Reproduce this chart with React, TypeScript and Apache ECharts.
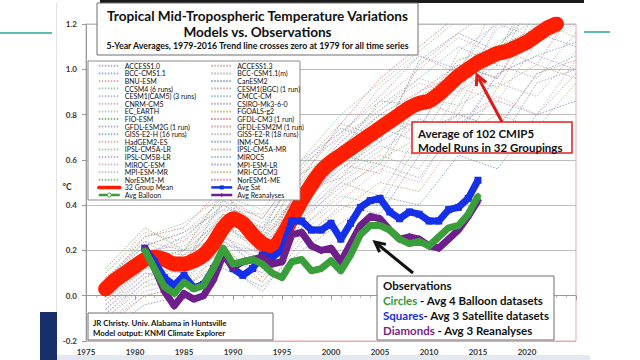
import React, { useEffect, useRef } from "react";
import * as echarts from "echarts";

const FONT = 'Lato, "Open Sans", "DejaVu Sans", sans-serif';

// ---- Model spaghetti (32 groupings), sampled every 4 years ----
const modelYears = [1977, 1981, 1985, 1989, 1993, 1997, 2001, 2005, 2009, 2013, 2017, 2021, 2025];

const modelNames = [
  "ACCESS1.0", "ACCESS1.3",
  "BCC-CMS1.1", "BCC-CSM1.1(m)",
  "BNU-ESM", "CanESM2",
  "CCSM4 (6 runs)", "CESM1(BGC) (1 run)",
  "CESM1(CAM5) (3 runs)", "CMCC-CM",
  "CNRM-CM5", "CSIRO-Mk3-6-0",
  "EC_EARTH", "FGOALS-g2",
  "FIO-ESM", "GFDL-CM3 (1 run)",
  "GFDL-ESM2G (1 run)", "GFDL-ESM2M (1 run)",
  "GISS-E2-H (16 runs)", "GISS-E2-R (18 runs)",
  "HadGEM2-ES", "INM-CM4",
  "IPSL-CM5A-LR", "IPSL-CM5A-MR",
  "IPSL-CM5B-LR", "MIROC5",
  "MIROC-ESM", "MPI-ESM-LR",
  "MPI-ESM-MR", "MRI-CGCM3",
  "NorESM1-M", "NorESM1-ME",
];

const m01 = [0.02, 0.20, 0.18, 0.36, 0.22, 0.48, 0.66, 0.80, 0.74, 1.02, 0.96, 1.26, 1.34];
const m02 = [-0.04, 0.12, 0.10, 0.30, 0.26, 0.40, 0.58, 0.54, 0.86, 0.80, 1.10, 1.02, 1.28];
const m03 = [0.06, 0.24, 0.14, 0.42, 0.28, 0.60, 0.72, 0.88, 1.06, 1.00, 1.22, 1.32, 1.40];
const m04 = [-0.08, 0.08, 0.20, 0.26, 0.18, 0.36, 0.54, 0.66, 0.62, 0.90, 1.02, 0.96, 1.16];
const m05 = [0.10, 0.28, 0.24, 0.44, 0.34, 0.58, 0.70, 0.92, 1.06, 0.98, 1.30, 1.40, 1.50];
const m06 = [0.04, 0.18, 0.26, 0.40, 0.30, 0.56, 0.74, 0.68, 1.04, 1.16, 1.08, 1.38, 1.46];
const m07 = [-0.02, 0.16, 0.12, 0.32, 0.20, 0.44, 0.62, 0.76, 0.88, 0.84, 1.12, 1.22, 1.14];
const m08 = [0.00, 0.14, 0.16, 0.34, 0.24, 0.46, 0.52, 0.72, 0.90, 0.98, 0.92, 1.20, 1.26];
const m09 = [-0.06, 0.10, 0.08, 0.26, 0.14, 0.38, 0.60, 0.78, 0.72, 1.08, 1.20, 1.14, 1.38];
const m10 = [0.08, 0.22, 0.28, 0.38, 0.36, 0.50, 0.68, 0.84, 0.96, 1.10, 1.02, 1.34, 1.42];
const m11 = [-0.12, 0.02, 0.06, 0.18, 0.10, 0.28, 0.42, 0.56, 0.50, 0.78, 0.88, 0.80, 1.04];
const m12 = [-0.14, 0.00, 0.04, 0.14, 0.02, 0.24, 0.40, 0.36, 0.62, 0.74, 0.66, 0.94, 1.00];
const m13 = [0.04, 0.20, 0.22, 0.36, 0.28, 0.50, 0.70, 0.82, 0.96, 0.90, 1.18, 1.24, 1.32];
const m14 = [-0.10, 0.06, 0.02, 0.22, 0.06, 0.30, 0.46, 0.60, 0.70, 0.64, 0.92, 1.02, 0.96];
const m15 = [0.12, 0.30, 0.20, 0.46, 0.26, 0.54, 0.64, 0.86, 0.84, 1.04, 1.10, 1.28, 1.36];
const m16 = [0.06, 0.26, 0.30, 0.48, 0.16, 0.52, 0.76, 0.96, 1.10, 1.24, 1.36, 1.48, 1.56];
const m17 = [-0.06, 0.08, 0.14, 0.24, 0.12, 0.34, 0.48, 0.58, 0.52, 0.76, 0.86, 0.80, 0.98];
const m18 = [-0.02, 0.12, 0.18, 0.28, 0.08, 0.32, 0.50, 0.44, 0.72, 0.80, 0.74, 0.98, 1.04];
const m19 = [0.02, 0.16, 0.10, 0.30, 0.22, 0.42, 0.56, 0.68, 0.78, 0.72, 0.98, 1.06, 1.12];
const m20 = [-0.04, 0.10, 0.06, 0.24, 0.16, 0.36, 0.50, 0.62, 0.56, 0.84, 0.94, 0.88, 1.08];
const m21 = [0.08, 0.24, 0.20, 0.40, 0.32, 0.54, 0.72, 0.86, 1.00, 1.14, 1.06, 1.36, 1.44];
const m22 = [-0.16, -0.04, 0.00, 0.12, 0.04, 0.20, 0.32, 0.44, 0.40, 0.62, 0.56, 0.80, 0.86];
const m23 = [0.10, 0.26, 0.32, 0.44, 0.38, 0.60, 0.80, 0.94, 1.08, 1.22, 1.34, 1.44, 1.52];
const m24 = [0.06, 0.22, 0.28, 0.42, 0.34, 0.58, 0.76, 0.70, 1.02, 1.16, 1.28, 1.22, 1.48];
const m25 = [-0.08, 0.06, 0.12, 0.22, 0.20, 0.34, 0.52, 0.64, 0.76, 0.70, 0.98, 1.06, 1.00];
const m26 = [-0.10, 0.04, 0.08, 0.20, 0.10, 0.30, 0.44, 0.40, 0.68, 0.80, 0.74, 0.98, 1.06];
const m27 = [0.04, 0.18, 0.24, 0.38, 0.24, 0.48, 0.68, 0.82, 0.94, 0.88, 1.20, 1.30, 1.40];
const m28 = [0.00, 0.14, 0.12, 0.32, 0.18, 0.44, 0.60, 0.74, 0.68, 0.96, 1.06, 1.16, 1.10];
const m29 = [-0.02, 0.12, 0.16, 0.28, 0.22, 0.40, 0.56, 0.70, 0.82, 0.92, 0.86, 1.12, 1.20];
const m30 = [-0.12, 0.00, 0.04, 0.16, 0.06, 0.26, 0.38, 0.50, 0.46, 0.70, 0.80, 0.74, 0.94];
const m31 = [0.02, 0.16, 0.20, 0.34, 0.26, 0.46, 0.62, 0.58, 0.88, 0.98, 1.10, 1.18, 1.26];
const m32 = [0.00, 0.18, 0.14, 0.36, 0.30, 0.44, 0.64, 0.80, 0.90, 1.02, 0.96, 1.22, 1.30];

const modelValues = [
  m01, m02, m03, m04, m05, m06, m07, m08, m09, m10, m11, m12, m13, m14, m15, m16,
  m17, m18, m19, m20, m21, m22, m23, m24, m25, m26, m27, m28, m29, m30, m31, m32,
];

// ---- 32 group mean ----
const meanYears = [
  1977, 1978, 1979, 1980, 1981, 1982, 1983, 1984, 1985, 1986, 1987, 1988, 1989, 1990, 1991, 1992,
  1993, 1994, 1995, 1996, 1997, 1998, 1999, 2000, 2001, 2002, 2003, 2004, 2005, 2006, 2007, 2008,
  2009, 2010, 2011, 2012, 2013, 2014, 2015, 2016, 2017, 2018, 2019, 2020, 2021, 2022, 2023,
];
const meanValues = [
  0.03, 0.07, 0.10, 0.13, 0.16, 0.17, 0.16, 0.14, 0.14, 0.155, 0.18, 0.23, 0.30, 0.34, 0.32, 0.27,
  0.23, 0.21, 0.26, 0.34, 0.42, 0.49, 0.55, 0.59, 0.62, 0.65, 0.68, 0.71, 0.74, 0.77, 0.80, 0.83,
  0.85, 0.86, 0.89, 0.93, 0.97, 1.00, 1.03, 1.05, 1.07, 1.08, 1.10, 1.12, 1.15, 1.18, 1.20,
];

// ---- Observations ----
const obsYears = [
  1981, 1982, 1983, 1984, 1985, 1986, 1987, 1988, 1989, 1990, 1991, 1992, 1993, 1994, 1995, 1996,
  1997, 1998, 1999, 2000, 2001, 2002, 2003, 2004, 2005, 2006, 2007, 2008, 2009, 2010, 2011, 2012,
  2013, 2014, 2015,
];
const balloon = [
  0.20, 0.12, 0.04, 0.01, 0.06, 0.03, 0.045, 0.12, 0.21, 0.14, 0.15, 0.16, 0.14, 0.10, 0.08, 0.15,
  0.16, 0.11, 0.12, 0.155, 0.11, 0.18, 0.27, 0.31, 0.31, 0.29, 0.25, 0.23, 0.24, 0.22, 0.26, 0.30,
  0.31, 0.36, 0.44,
];
const satellite = [
  0.21, 0.15, 0.08, 0.045, 0.09, 0.035, 0.05, 0.12, 0.20, 0.12, 0.09, 0.12, 0.18, 0.17, 0.20, 0.33,
  0.33, 0.29, 0.29, 0.32, 0.25, 0.32, 0.39, 0.42, 0.43, 0.37, 0.34, 0.37, 0.36, 0.33, 0.33, 0.38,
  0.39, 0.43, 0.51,
];
const reanalyses = [
  0.21, 0.12, 0.02, -0.045, 0.01, -0.015, 0.0, 0.07, 0.18, 0.125, 0.15, 0.16, 0.17, 0.14, 0.15, 0.27,
  0.28, 0.22, 0.20, 0.21, 0.15, 0.23, 0.31, 0.35, 0.34, 0.29, 0.25, 0.26, 0.25, 0.22, 0.21, 0.25,
  0.29, 0.35, 0.42,
];

const xTicks = [1975, 1980, 1985, 1990, 1995, 2000, 2005, 2010, 2015, 2020];

const modelColors = [
  "#9a9ab4", "#c98a8a", "#7d9bc9", "#a6a6a6", "#d69a9a", "#6f8cc0", "#8fbf8f", "#b8997a",
  "#a9a2cc", "#7fb0b0", "#cfa0b4", "#8e8eb0", "#b4b4b4", "#c7a36c", "#67a867", "#c07070",
];

const BLUE = "#1430e8";
const GREEN = "#3a9e3a";
const PURPLE = "#6e1f8c";
const RED = "#ff1e00";

export default function App() {
  const ref = useRef<HTMLDivElement>(null);

  useEffect(() => {
    if (!ref.current) return;
    const chart = echarts.init(ref.current, undefined, { renderer: "svg" });

    const modelSeries = modelNames.map((name, i) => ({
      name,
      type: "line",
      data: modelYears.map((y, j) => [y, modelValues[i][j]]),
      symbol: "none",
      silent: true,
      z: 2,
      lineStyle: { width: 1, type: [1.5, 1.5], color: modelColors[i % modelColors.length], opacity: 0.8 },
      itemStyle: { color: modelColors[i % modelColors.length] },
    }));

    const leftNames = modelNames.filter((_, i) => i % 2 === 0);
    const rightNames = modelNames.filter((_, i) => i % 2 === 1);

    const legendCommon = {
      orient: "vertical",
      top: 62,
      padding: 0,
      itemGap: 0,
      itemWidth: 21,
      itemHeight: 5,
      selectedMode: false,
      z: 20,
      itemStyle: { opacity: 0 },
      textStyle: { fontSize: 7, lineHeight: 7.6, color: "#111", fontFamily: FONT },
    };

    const txt = (x: number, y: number, text: string, size: number, extra: any = {}) => ({
      type: "text",
      x,
      y,
      z: 16,
      style: {
        text,
        fontSize: size,
        fontFamily: FONT,
        fontWeight: "bold",
        fill: "#111",
        textAlign: "left",
        align: "left",
        textVerticalAlign: "middle",
        verticalAlign: "middle",
        ...extra,
      },
    });

    const box = (x: number, y: number, w: number, h: number, stroke: string, lw = 1) => ({
      type: "rect",
      z: 15,
      shape: { x, y, width: w, height: h },
      style: { fill: "#fff", stroke, lineWidth: lw },
    });

    const OBS_SIZE = 11.5;
    const obsRich = {
      g: { fill: "#2f9a3a", fontSize: OBS_SIZE, fontWeight: "bold", fontFamily: FONT },
      b: { fill: "#1a2ee0", fontSize: OBS_SIZE, fontWeight: "bold", fontFamily: FONT },
      p: { fill: "#7a1f86", fontSize: OBS_SIZE, fontWeight: "bold", fontFamily: FONT },
    };

    chart.setOption({
      animation: false,
      backgroundColor: "#ffffff",
      grid: {
        left: 86,
        right: 64,
        top: 24,
        bottom: 19,
        show: true,
        borderColor: "#eaa4ac",
        borderWidth: 1,
        backgroundColor: "transparent",
      },
      xAxis: {
        type: "value",
        min: 1975,
        max: 2025,
        interval: 5,
        axisLine: { show: true, lineStyle: { color: "#9a9a9a" } },
        axisTick: { show: true, length: 4, lineStyle: { color: "#9a9a9a" } },
        minorTick: { show: true, splitNumber: 5, length: 2, lineStyle: { color: "#b0b0b0" } },
        splitLine: { show: false },
        axisLabel: {
          margin: 7,
          fontSize: 8,
          fontWeight: "bold",
          color: "#333",
          fontFamily: FONT,
          formatter: (v: number) => (xTicks.indexOf(v) >= 0 ? String(v) : ""),
        },
      },
      yAxis: {
        type: "value",
        min: -0.2,
        max: 1.2,
        interval: 0.2,
        axisLine: { show: true, lineStyle: { color: "#9a9a9a" } },
        axisTick: { show: true, length: 4, lineStyle: { color: "#9a9a9a" } },
        splitLine: { show: true, lineStyle: { color: "#bdbdbd", width: 1 } },
        axisLabel: {
          margin: 9,
          fontSize: 8,
          fontWeight: "bold",
          color: "#333",
          fontFamily: FONT,
          formatter: (v: number) => v.toFixed(1),
        },
      },
      legend: [
        {
          ...legendCommon,
          left: 97,
          data: [
            ...leftNames,
            { name: "32 Group Mean", lineStyle: { width: 3.5 } },
            { name: "Avg Balloon", lineStyle: { width: 2.5 }, itemStyle: { opacity: 1, color: "#fff", borderColor: GREEN, borderWidth: 1 } },
          ],
        },
        {
          ...legendCommon,
          left: 210,
          data: [
            ...rightNames,
            { name: "Avg Sat", lineStyle: { width: 2.5 }, itemStyle: { opacity: 1 } },
            { name: "Avg Reanalyses", lineStyle: { width: 2.5 }, itemStyle: { opacity: 1 } },
          ],
        },
      ],
      series: [
        ...modelSeries,
        {
          name: "32 Group Mean",
          type: "line",
          data: meanYears.map((y, i) => [y, meanValues[i]]),
          symbol: "none",
          smooth: 0.2,
          silent: true,
          z: 3,
          lineStyle: { width: 15, color: RED, cap: "round", join: "round" },
          itemStyle: { color: RED },
        },
        {
          name: "Avg Sat",
          type: "line",
          data: obsYears.map((y, i) => [y, satellite[i]]),
          symbol: "rect",
          symbolSize: 7,
          silent: true,
          z: 4,
          lineStyle: { width: 7, color: BLUE, join: "round" },
          itemStyle: { color: BLUE },
        },
        {
          name: "Avg Reanalyses",
          type: "line",
          data: obsYears.map((y, i) => [y, reanalyses[i]]),
          symbol: "diamond",
          symbolSize: 8,
          silent: true,
          z: 5,
          lineStyle: { width: 7, color: PURPLE, join: "round" },
          itemStyle: { color: PURPLE },
        },
        {
          name: "Avg Balloon",
          type: "line",
          data: obsYears.map((y, i) => [y, balloon[i]]),
          symbol: "circle",
          symbolSize: 6,
          silent: true,
          z: 6,
          lineStyle: { width: 7, color: GREEN, join: "round" },
          itemStyle: { color: GREEN },
        },
      ],
      graphic: [
        // slide decorations
        { type: "rect", z: 1, shape: { x: 100, y: 0, width: 484, height: 3 }, style: { fill: "#1b1b1b" } },
        { type: "line", z: 1, shape: { x1: 0, y1: 33, x2: 52, y2: 33 }, style: { stroke: "#2aa395", lineWidth: 1.5 } },
        { type: "line", z: 1, shape: { x1: 584, y1: 32, x2: 610, y2: 32 }, style: { stroke: "#2aa395", lineWidth: 1.5 } },
        { type: "line", z: 1, shape: { x1: 56.5, y1: 3, x2: 56.5, y2: 355 }, style: { stroke: "#e2e2e2", lineWidth: 1 } },
        { type: "rect", z: 1, shape: { x: 40, y: 312, width: 17, height: 48 }, style: { fill: "#17306a" } },
        { type: "rect", z: 1, shape: { x: 57, y: 355, width: 533, height: 5 }, style: { fill: "#e3e9f1" } },

        // title box
        box(97, 3, 321, 52, "#6e6e6e"),
        txt(257.5, 16, "Tropical Mid-Tropospheric Temperature Variations", 13.6, { textAlign: "center", align: "center" }),
        txt(257.5, 32, "Models vs. Observations", 13.6, { textAlign: "center", align: "center" }),
        txt(257.5, 45.5, "5-Year Averages, 1979-2016 Trend line crosses zero at 1979 for all time series", 8.8, { textAlign: "center", align: "center" }),

        // legend frame
        box(88, 61, 212, 139, "#8a8a8a"),

        // unit
        txt(67, 187, "°C", 8.5, { textAlign: "center", align: "center", fill: "#333" }),

        // credit box
        box(88, 313, 185, 27, "#6e6e6e"),
        txt(93, 323, "JR Christy. Univ. Alabama in Huntsville", 7.8),
        txt(93, 333, "Model output: KNMI Climate Explorer", 7.8),

        // model annotation
        box(412, 122, 160, 31, "#e02020", 1.5),
        txt(418, 133, "Average of 102 CMIP5", 11.5),
        txt(418, 147, "Model Runs in 32 Groupings", 11.5),
        { type: "line", z: 16, shape: { x1: 502, y1: 122, x2: 479, y2: 79 }, style: { stroke: "#e01818", lineWidth: 3 } },
        { type: "polyline", z: 16, shape: { points: [[486.1, 82.5], [477, 75], [476.3, 86.2]] }, style: { stroke: "#e01818", lineWidth: 3, fill: "none" } },

        // observations annotation
        box(377, 276, 177, 64, "#6e6e6e"),
        txt(383, 285, "Observations", OBS_SIZE),
        txt(383, 300, "{g|Circles} - Avg 4 Balloon datasets", OBS_SIZE, { rich: obsRich }),
        txt(383, 315, "{b|Squares}- Avg 3 Satellite datasets", OBS_SIZE, { rich: obsRich }),
        txt(383, 330, "{p|Diamonds} - Avg 3 Reanalyses", OBS_SIZE, { rich: obsRich }),
        { type: "line", z: 16, shape: { x1: 413, y1: 273, x2: 378, y2: 244.5 }, style: { stroke: "#111", lineWidth: 3 } },
        { type: "polyline", z: 16, shape: { points: [[385.9, 244.4], [375, 242], [379.6, 252.2]] }, style: { stroke: "#111", lineWidth: 3, fill: "none" } },
      ],
    });

    return () => chart.dispose();
  }, []);

  return (
    <div
      ref={ref}
      style={{ position: "fixed", left: 0, top: 0, width: 640, height: 360, background: "#fff" }}
    />
  );
}
